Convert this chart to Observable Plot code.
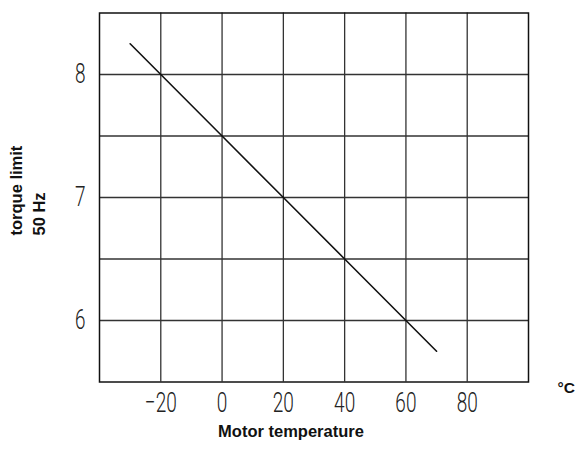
<!DOCTYPE html>
<html>
<head>
<meta charset="utf-8">
<script src="https://cdn.jsdelivr.net/npm/d3@7"></script>
<script src="https://cdn.jsdelivr.net/npm/@observablehq/plot@0.6"></script>
<style>
  html, body { margin: 0; padding: 0; background: #fff; }
  #chart svg { display: block; }
</style>
</head>
<body>
<div id="chart"></div>
<script>
// Data
const temperature = [-30, -20, 0, 20, 40, 60, 70];
const torqueLimit = [8.25, 8.0, 7.5, 7.0, 6.5, 6.0, 5.75];
const xTicks = [-20, 0, 20, 40, 60, 80];
const yTicks = [6, 7, 8];
const xGrid = [-20, 0, 20, 40, 60, 80];
const yGrid = [6, 6.5, 7, 7.5, 8];
const xTitle = "Motor temperature";
const yTitle = "torque limit\n50 Hz";
const unitLabel = "°C";

const data = temperature.map((t, i) => ({t, v: torqueLimit[i]}));
const tickFont = "Roboto, 'Liberation Sans', sans-serif";
const titleFont = "'Liberation Sans', Arial, sans-serif";

const chart = Plot.plot({
  width: 576,
  height: 455,
  marginLeft: 99,
  marginRight: 48,
  marginTop: 12.5,
  marginBottom: 73.5,
  style: {background: "#fff", color: "#111"},
  x: {domain: [-40, 100]},
  y: {domain: [5.5, 8.5]},
  marks: [
    Plot.gridX(xGrid, {stroke: "#333", strokeOpacity: 1, strokeWidth: 1.3}),
    Plot.gridY(yGrid, {stroke: "#333", strokeOpacity: 1, strokeWidth: 1.3}),
    Plot.frame({stroke: "#111", strokeWidth: 1.5}),
    Plot.axisX(xTicks, {tickSize: 0, tickPadding: 10, tickFormat: d => d < 0 ? "\u2212" + Math.abs(d) : String(d), fontSize: 28, fontWeight: 300, fontFamily: tickFont, fill: "#222", label: null}),
    Plot.axisY(yTicks, {tickSize: 0, tickPadding: 14, tickFormat: d => String(d), fontSize: 28, fontWeight: 300, fontFamily: tickFont, fill: "#222", label: null}),
    Plot.line(data, {x: "t", y: "v", stroke: "#111", strokeWidth: 1.6}),
    Plot.text([xTitle], {frameAnchor: "bottom", dx: -23, dy: 55, fontSize: 16.5, fontWeight: "bold", fontFamily: titleFont, fill: "#111"}),
    Plot.text([yTitle], {frameAnchor: "left", rotate: -90, textAnchor: "start", lineAnchor: "top", lineHeight: 1.35, dx: -93, dy: 38, fontSize: 16.5, fontWeight: "bold", fontFamily: titleFont, fill: "#111"}),
    Plot.text([unitLabel], {frameAnchor: "bottom-right", textAnchor: "start", dx: 29, dy: 11, fontSize: 15.5, fontWeight: "bold", fontFamily: titleFont, fill: "#111"})
  ]
});
// condense the tick label glyphs horizontally (the reference uses a narrow light font)
d3.select(chart).selectAll('g[aria-label="x-axis tick label"] text, g[aria-label="y-axis tick label"] text')
  .attr("transform", function() { return (this.getAttribute("transform") || "") + " scale(0.68,1)"; });
document.getElementById("chart").appendChild(chart);
</script>
</body>
</html>
